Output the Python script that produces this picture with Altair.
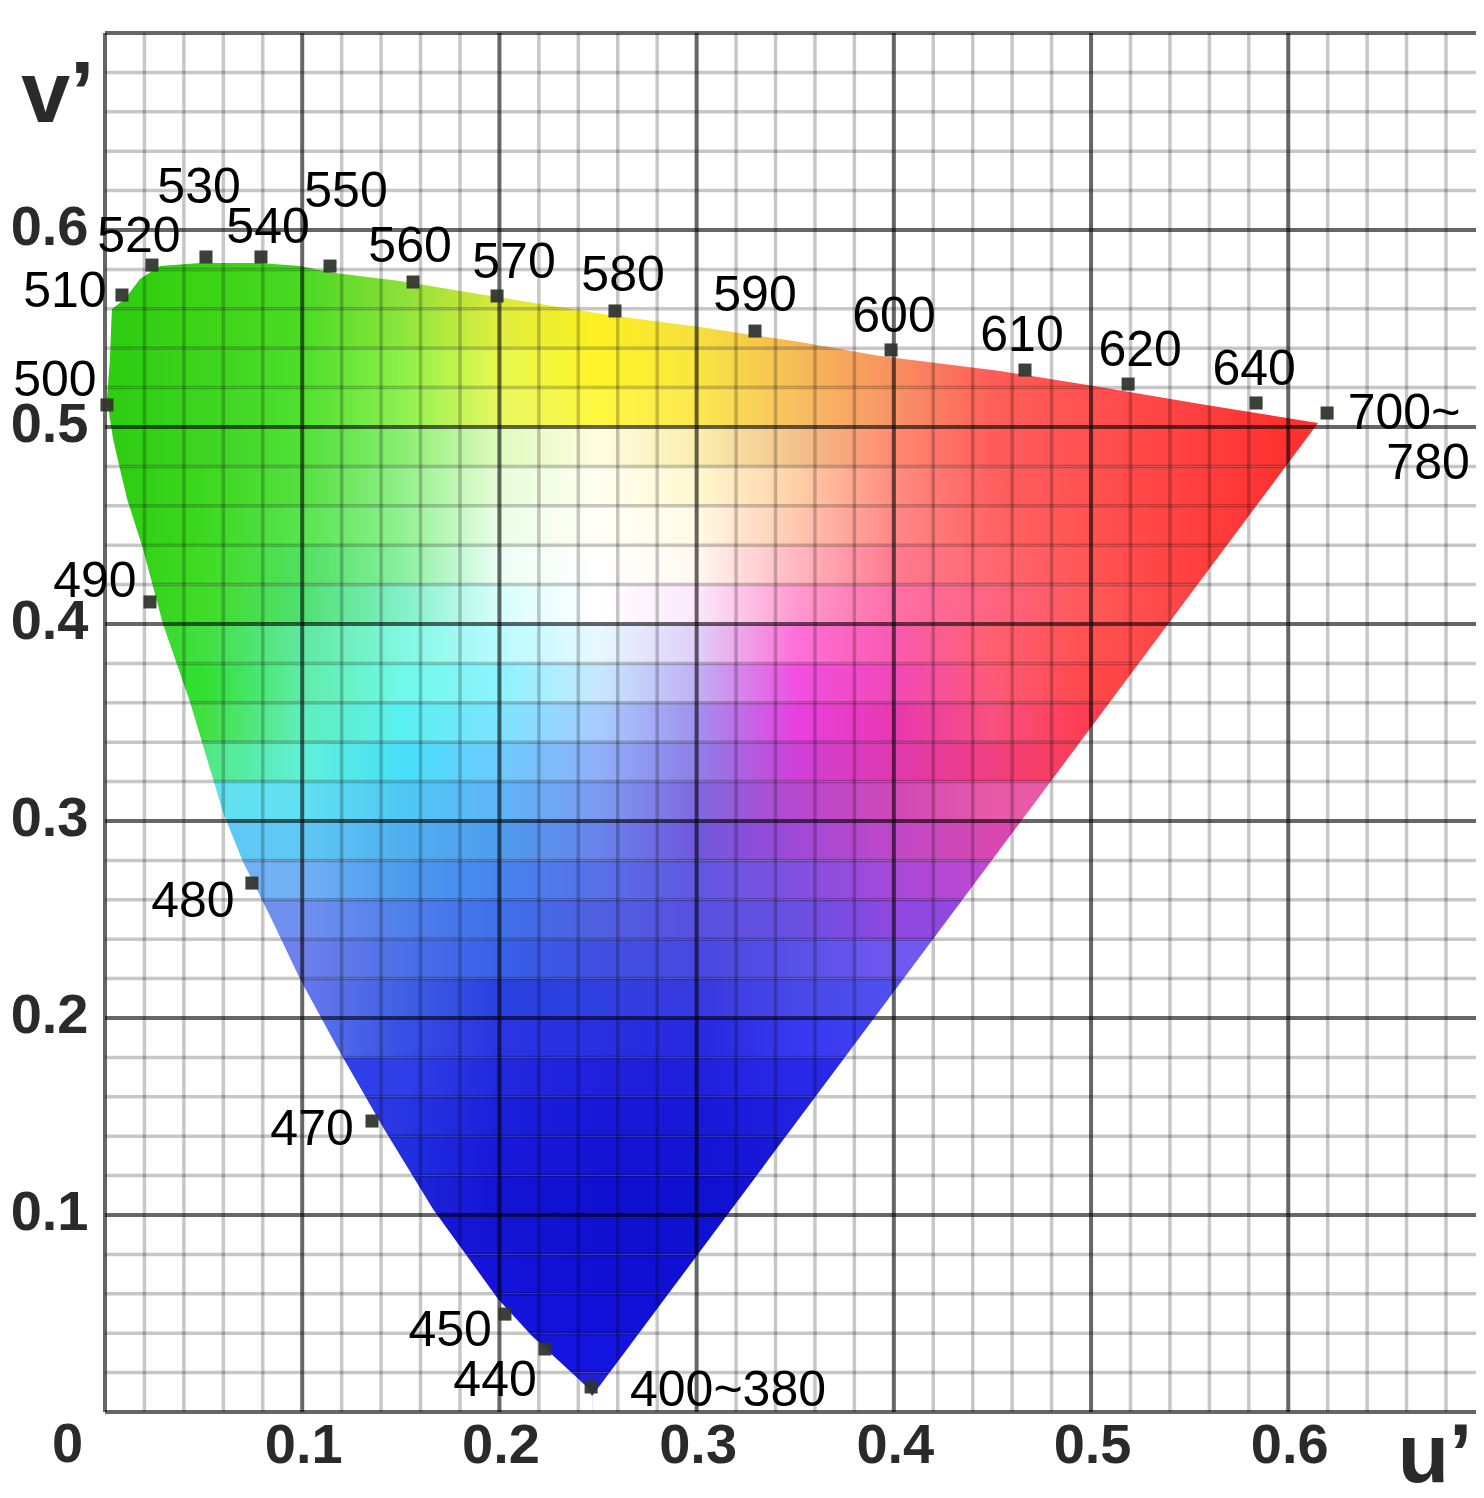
import altair as alt
import pandas as pd

# colour table: one row per 0.02 band of v', one stop per 0.05 of u'
stop_u = [0, .05, .1, .15, .2, .25, .3, .35, .4, .45, .5, .55, .6, .65]
band_v = [.58, .56, .54, .52, .50, .48, .46, .44, .42, .40, .38, .36, .34, .32, .30,
          .28, .26, .24, .22, .20, .18, .16, .14, .12, .10, .08, .06, .04, .02, 0]
band_colors = [
 "#2ccc10 #3ad014 #44d420 #8ee038 #d8e838 #f4ee20 #f4dc40 #f4b050 #f88a60 #ff5c55 #ff4848 #ff3a3a #ff3030 #ff3030",
 "#2ccc10 #3ad414 #48d822 #8ce038 #dce83a #f8f020 #f6e040 #f6b850 #f88a60 #ff5c55 #ff4c48 #ff3c3c #ff3030 #ff3030",
 "#2ccc10 #3cd416 #4adc24 #8ce63c #e0ee40 #fcf020 #f6e040 #f6b850 #f88a60 #ff5c55 #ff4c48 #ff3c3c #ff3030 #ff3030",
 "#2ccc10 #3cd41c #4cde2c #8cf048 #e8f850 #fff428 #f8e640 #f6bc58 #f89060 #ff5c58 #ff4c48 #ff4040 #ff3434 #ff3030",
 "#2ccc10 #3cd420 #50e030 #8cf050 #e8f860 #fff840 #fbe850 #f8c060 #f89468 #ff6058 #ff5050 #ff4040 #ff3030 #ff3030",
 "#2ccc10 #3cd420 #50e038 #88ee70 #e0fac0 #fffce0 #fbeeb0 #f2c38a #ff8a70 #ff5c5c #ff5050 #ff4040 #ff3030 #ff3030",
 "#2ccc10 #3cd81e #55e040 #90f088 #e8fcd8 #fffff0 #fff8d0 #ffd0a8 #ff8c80 #ff6060 #ff5050 #ff4040 #ff3030 #ff3030",
 "#2ccc10 #3cd820 #58e450 #90f090 #ecfee8 #fffff8 #fffbe6 #ffc8b0 #ff8888 #ff6464 #ff5252 #ff4040 #ff3030 #ff3030",
 "#2ccc10 #40dc24 #50e060 #88f0a0 #ecfef4 #ffffff #fff8f0 #ffb8c0 #ff7a90 #ff6870 #ff5454 #ff4040 #ff3030 #ff3030",
 "#2ccc14 #40dc28 #50e070 #80f0c8 #d8fefc #ffffff #fbe8fb #ff9ad0 #ff6ea8 #ff6480 #ff5858 #ff4444 #ff3030 #ff3030",
 "#30d014 #40e040 #60e8a0 #80f8e0 #b8fbff #e8f8ff #e0d0f8 #ff70d8 #f85ab0 #ff6070 #ff5050 #ff4444 #ff3030 #ff3030",
 "#30e030 #30e030 #60eca8 #70f8e8 #8cf4ff #c8e8ff #c0b0f4 #f050e0 #f048b8 #ff5a78 #ff4848 #ff4040 #ff3030 #ff3030",
 "#40e040 #40e040 #60eebc #58f0f0 #7ce4ff #a8ccff #a090ec #e840e0 #e838b0 #f85080 #ff3c50 #ff3c50 #ff3030 #ff3030",
 "#50e880 #50e880 #60f0d8 #48e0f8 #6ccaff #8eb0f8 #8e7ee8 #d040d8 #e038b0 #f04080 #ff3c50 #ff3c50 #ff3030 #ff3030",
 "#60e0f0 #60e0f0 #60e0f0 #50c8f4 #5eb4f8 #7c9cf0 #8068e0 #b848d0 #d048b8 #e85aa8 #e85aa8 #e85aa8 #ff3030 #ff3030",
 "#60c8f4 #60c8f4 #60c8f4 #50b0f0 #4e9cee #6884ec #7058dc #a048d8 #c048c8 #d848b0 #d848b0 #d848b0 #ff3030 #ff3030",
 "#70b0f4 #70b0f4 #70b0f4 #4c9cee #4684ee #5870e8 #6058e0 #8050e0 #a848d8 #c048d0 #c048d0 #c048d0 #ff3030 #ff3030",
 "#7090f0 #7090f0 #7090f0 #5080ea #3e70ea #5060e0 #5850e0 #6850e0 #9048e0 #9048e0 #9048e0 #9048e0 #ff3030 #ff3030",
 "#7080ec #7080ec #7080ec #4c70e8 #3860e8 #4050e0 #4848e0 #5850e8 #7058f0 #7058f0 #7058f0 #7058f0 #ff3030 #ff3030",
 "#6878ec #6878ec #6878ec #4060e4 #2840e0 #3040e0 #3838e0 #4848e8 #5050f0 #5050f0 #5050f0 #5050f0 #ff3030 #ff3030",
 "#6078ec #6078ec #6078ec #3850e4 #2a34e0 #2830e0 #2828e0 #3838f0 #4040f0 #4040f0 #4040f0 #4040f0 #ff3030 #ff3030",
 "#3040e8 #3040e8 #3040e8 #3040e8 #2028dc #2020dc #2020dc #2828e8 #2828e8 #2828e8 #2828e8 #2828e8 #ff3030 #ff3030",
 "#3040e8 #3040e8 #3040e8 #2836e4 #1a20d8 #1818d8 #1818d8 #2020e0 #2020e0 #2020e0 #2020e0 #2020e0 #ff3030 #ff3030",
 "#2030e0 #2030e0 #2030e0 #2030e0 #1818d8 #1414d4 #1414d4 #1818d8 #1818d8 #1818d8 #1818d8 #1818d8 #ff3030 #ff3030",
 "#2028d8 #2028d8 #2028d8 #2028d8 #1414d4 #1010d0 #1010d0 #1414d4 #1414d4 #1414d4 #1414d4 #1414d4 #ff3030 #ff3030",
 "#1818d8 #1818d8 #1818d8 #1818d8 #1414d4 #1010d0 #1010d0 #1414d4 #1414d4 #1414d4 #1414d4 #1414d4 #ff3030 #ff3030",
 "#1818d8 #1818d8 #1818d8 #1818d8 #1414d8 #1010d4 #1010d4 #1414d8 #1414d8 #1414d8 #1414d8 #1414d8 #ff3030 #ff3030",
 "#1818e0 #1818e0 #1818e0 #1818e0 #1414dc #1010d8 #1010d8 #1414dc #1414dc #1414dc #1414dc #1414dc #ff3030 #ff3030",
 "#1818e0 #1818e0 #1818e0 #1818e0 #1414e0 #1414e0 #1414e0 #1414e0 #1414e0 #1414e0 #1414e0 #1414e0 #ff3030 #ff3030",
 "#2020d8 #2020d8 #2020d8 #2020d8 #2020d8 #2020d8 #2020d8 #2020d8 #2020d8 #2020d8 #2020d8 #2020d8 #ff3030 #ff3030",
]

# outline of the coloured region
top_u = [0, .0035, .0101, .0177, .0279, .0482, .0786, .0989, .1166, .1496, .1988, .2586, .3017, .3524, .3930, .4539, .5046, .5553, .6151, .70]
top_v = [.5599, .5599, .5650, .5751, .5817, .5832, .5832, .5817, .5782, .5741, .5660, .5563, .5508, .5431, .5360, .5284, .5203, .5117, .5020, .5020]
left_v = [.70, .5600, .5599, .5345, .5142, .4939, .4787, .4635, .4381, .4000, .3604, .3046, .2792, .2518, .2198, .1843, .1437, .1030, .0574, .0386, .0132, .0081, 0]
left_u = [0, 0, .0035, .0025, .0010, .0041, .0076, .0112, .0193, .0294, .0431, .0598, .0700, .0837, .0989, .1182, .1415, .1663, .1993, .2165, .2439, .2470, .2470]
low_u = [.2470, .6151, .70]
low_v = [.0081, .5020, .5020]

# wavelength points
dot_u = [.0086, .0238, .0512, .0791, .1141, .1562, .1988, .2586, .3296, .3986, .4665, .5188, .5837, .6197, .0010, .0228, .0745, .1354, .2028, .2231, .2465]
dot_v = [.5670, .5822, .5863, .5863, .5817, .5736, .5665, .5589, .5487, .5391, .5289, .5218, .5122, .5071, .5112, .4112, .2685, .1477, .0497, .0320, .0127]

# wavelength labels
label_text = ["530", "550", "520", "540", "560", "570", "580", "590", "600", "610", "620", "640", "510", "500", "490", "480", "470", "450", "440", "400~380", "700~", "780"]
label_u = [.0477, .1222, .0172, .0827, .1547, .2074, .2627, .3296, .4001, .4650, .5249, .5827, -.0203, -.0254, -.0051, .0446, .1050, .1750, .1978, .3159, .6587, .6709]
label_v = [.6223, .6203, .5975, .6020, .5924, .5843, .5777, .5675, .5569, .5472, .5396, .5299, .5695, .5244, .4223, .2599, .1442, .0421, .0168, .0117, .5076, .4822]

major_ticks = [0, .1, .2, .3, .4, .5, .6]
frame_v = [.7]
minor_ticks = [round(i * .02, 2) for i in range(36) if i % 5]
tick_labels = [.1, .2, .3, .4, .5, .6]

# free-standing texts
axis_name_text = ["v\u2019", "u\u2019", "0"]
axis_name_u = [-.0239, .6744, -.0190]
axis_name_v = [.6680, -.0227, -.0165]
axis_name_size = [88, 84, 56]

FONT = "Liberation Sans"
U_MAX = .6952
XS = alt.Scale(domain=[0, U_MAX], nice=False, zero=False)
YS = alt.Scale(domain=[0, .7], nice=False, zero=False)
AX = alt.Axis(values=tick_labels, format=".1f", grid=False, domain=False, ticks=False,
              labelFont=FONT, labelFontSize=56, labelFontWeight="bold", labelColor="#2a2a2a",
              labelPadding=6, labelFlush=False, labelOverlap=False, labelOffset=1)
AY = alt.Axis(values=tick_labels, format=".1f", grid=False, domain=False, ticks=False,
              labelFont=FONT, labelFontSize=56, labelFontWeight="bold", labelColor="#2a2a2a",
              labelPadding=17, labelFlush=False, labelOverlap=False, labelOffset=-3)
X = lambda f: alt.X(f"{f}:Q", scale=XS, axis=AX, title=None)
Y = lambda f: alt.Y(f"{f}:Q", scale=YS, axis=AY, title=None)

layers = []

# colour bands
for v0, row in zip(band_v, band_colors):
    cols = row.split()
    grad = alt.Gradient(
        gradient="linear", x1=0, x2=1, y1=0, y2=0,
        stops=[alt.GradientStop(color=c, offset=u / U_MAX) for u, c in zip(stop_u, cols)],
    )
    df = pd.DataFrame({"a": [0], "b": [U_MAX], "c": [v0], "d": [v0 + .02]})
    layers.append(alt.Chart(df).mark_rect(color=grad).encode(x=X("a"), x2="b", y=Y("c"), y2="d"))

# white outside the locus
top_df = pd.DataFrame({"u": top_u, "v": top_v, "t": [.7] * len(top_u)})
layers.append(alt.Chart(top_df).mark_area(fill="#ffffff", opacity=1, clip=True).encode(
    x=X("u"), y=Y("v"), y2="t"))
low_df = pd.DataFrame({"u": low_u, "v": low_v, "t": [0] * len(low_u)})
layers.append(alt.Chart(low_df).mark_area(fill="#ffffff", opacity=1, clip=True).encode(
    x=X("u"), y=Y("v"), y2="t"))
left_df = pd.DataFrame({"u": left_u, "v": left_v, "z": [0] * len(left_u)})
layers.append(alt.Chart(left_df).mark_area(fill="#ffffff", opacity=1, orient="horizontal").encode(
    y=Y("v"), x=X("z"), x2="u"))

# grid
minor_df = pd.DataFrame({"t": minor_ticks})
layers.append(alt.Chart(minor_df).mark_rule(color="#000000", opacity=.22, strokeWidth=3.5).encode(x=X("t")))
layers.append(alt.Chart(minor_df).mark_rule(color="#000000", opacity=.22, strokeWidth=3.5).encode(y=Y("t")))
major_df = pd.DataFrame({"t": major_ticks})
frame_df = pd.DataFrame({"t": major_ticks + frame_v})
layers.append(alt.Chart(major_df).mark_rule(color="#000000", opacity=.6, strokeWidth=4).encode(x=X("t")))
layers.append(alt.Chart(frame_df).mark_rule(color="#000000", opacity=.6, strokeWidth=4).encode(y=Y("t")))

# wavelength dots
dot_df = pd.DataFrame({"u": dot_u, "v": dot_v})
layers.append(alt.Chart(dot_df).mark_square(color="#30362e", size=170, opacity=.95).encode(x=X("u"), y=Y("v")))

# wavelength labels
lab_df = pd.DataFrame({"u": label_u, "v": label_v, "t": label_text})
layers.append(alt.Chart(lab_df).mark_text(font=FONT, fontSize=50, color="#000000", align="center", baseline="middle", dy=2).encode(
    x=X("u"), y=Y("v"), text="t:N"))

# axis names and origin
name_df = pd.DataFrame({"u": axis_name_u, "v": axis_name_v, "t": axis_name_text, "s": axis_name_size})
layers.append(alt.Chart(name_df).mark_text(font=FONT, fontWeight="bold", color="#2a2a2a", align="center", baseline="middle").encode(
    x=X("u"), y=Y("v"), text="t:N", size=alt.Size("s:Q", scale=None, legend=None)))

chart = alt.layer(*layers).properties(
    width=1371, height=1379,
    padding={"left": 97, "top": 25, "right": 0, "bottom": 72},
    autosize=alt.AutoSizeParams(type="none"),
    background="white",
).configure_view(stroke=None)

chart.save("out.html", embed_options={"renderer": "svg", "actions": False})
